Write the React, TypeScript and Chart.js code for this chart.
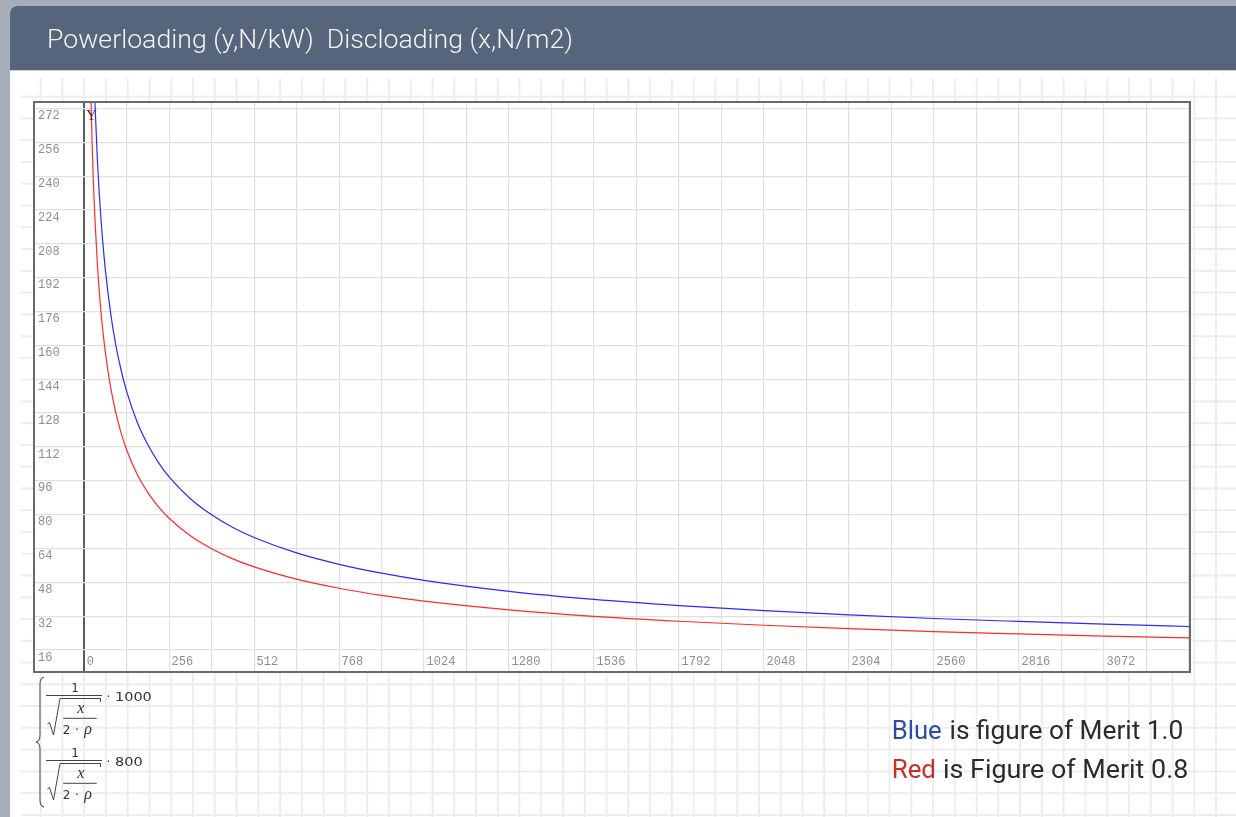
import React, { useEffect, useRef } from 'react';
import { Chart, registerables } from 'chart.js';

Chart.register(...registerables);

// Disc loading (x, N/m2) sample positions
const discLoading = [16, 20, 24, 28, 32, 40, 48, 56, 64, 80, 96, 112, 128, 160, 192, 224, 256, 320, 384, 448, 512, 640, 768, 896, 1024, 1280, 1536, 1792, 2048, 2304, 2560, 2816, 3072, 3328, 3400];
// Power loading (y, N/kW), blue curve: figure of merit 1.0
const blueMerit10 = [391.3, 350.0, 319.5, 295.8, 276.7, 247.5, 225.9, 209.2, 195.7, 175.0, 159.7, 147.9, 138.3, 123.7, 113.0, 104.6, 97.8, 87.5, 79.9, 73.9, 69.2, 61.9, 56.5, 52.3, 48.9, 43.7, 39.9, 37.0, 34.6, 32.6, 30.9, 29.5, 28.2, 27.1, 26.8];
// Power loading (y, N/kW), red curve: figure of merit 0.8
const redMerit08 = [313.0, 280.0, 255.6, 236.6, 221.4, 198.0, 180.7, 167.4, 156.6, 140.0, 127.8, 118.3, 110.7, 99.0, 90.4, 83.7, 78.3, 70.0, 63.9, 59.1, 55.3, 49.5, 45.2, 41.8, 39.1, 35.0, 31.9, 29.6, 27.7, 26.1, 24.7, 23.6, 22.6, 21.7, 21.5];

const xRange = [-148, 3328];
const xGridStep = 128;
const xLabelStep = 256;
const yRange = [6.07, 274.6];
const yStep = 16;

const titleText = 'Powerloading (y,N/kW)  Discloading (x,N/m2)';
const noteLines = [
  { word: 'Blue', rest: 'is figure of Merit 1.0', color: '#3049a4' },
  { word: 'Red', rest: 'is Figure of Merit 0.8', color: '#c9302c' },
];
const formulaFactors = ['1000', '800'];

export default function App() {
  const canvasRef = useRef<HTMLCanvasElement>(null);

  useEffect(() => {
    const canvas = canvasRef.current;
    if (!canvas) return;
    const tickFont = { family: "'Liberation Mono', monospace", size: 12 };
    const chart = new Chart(canvas, {
      type: 'line',
      data: {
        datasets: [
          {
            label: 'Figure of Merit 1.0',
            data: discLoading.map((x, i) => ({ x, y: blueMerit10[i] })),
            borderColor: '#2a2aff',
            borderWidth: 1.2,
            pointRadius: 0,
            fill: false,
            cubicInterpolationMode: 'monotone',
          },
          {
            label: 'Figure of Merit 0.8',
            data: discLoading.map((x, i) => ({ x, y: redMerit08[i] })),
            borderColor: '#ff2a2a',
            borderWidth: 1.2,
            pointRadius: 0,
            fill: false,
            cubicInterpolationMode: 'monotone',
          },
        ],
      },
      options: {
        animation: false,
        responsive: true,
        maintainAspectRatio: false,
        layout: { padding: 0 },
        plugins: { legend: { display: false }, tooltip: { enabled: false } },
        elements: { point: { radius: 0 } },
        scales: {
          x: {
            type: 'linear',
            position: 'bottom',
            min: xRange[0],
            max: xRange[1],
            afterFit: (s: any) => { s.height = 0; s.paddingLeft = 0; s.paddingRight = 0; s.paddingTop = 0; s.paddingBottom = 0; },
            border: { display: false },
            grid: {
              drawTicks: false,
              color: (c: any) => {
                const v = c.tick ? c.tick.value : NaN;
                if (v === 0) return '#5c5c5c';
                if (v > 0 && v % xGridStep === 0) return '#e0e0e0';
                return 'rgba(0,0,0,0)';
              },
              lineWidth: (c: any) => (c.tick && c.tick.value === 0 ? 2 : 1.2),
            },
            ticks: {
              stepSize: xGridStep,
              includeBounds: false,
              autoSkip: false,
              maxRotation: 0,
              minRotation: 0,
              mirror: true,
              align: 'start',
              labelOffset: 2.5,
              padding: 1.5,
              color: '#8e8e8e',
              font: tickFont,
              callback: (v: any) => (v >= 0 && v % xLabelStep === 0 ? String(v) : ''),
            },
          },
          y: {
            type: 'linear',
            position: 'left',
            min: yRange[0],
            max: yRange[1],
            afterFit: (s: any) => { s.width = 0; s.paddingLeft = 0; s.paddingRight = 0; s.paddingTop = 0; s.paddingBottom = 0; },
            border: { display: false },
            grid: {
              drawTicks: false,
              color: (c: any) => {
                const v = c.tick ? c.tick.value : NaN;
                return v % yStep === 0 ? '#e0e0e0' : 'rgba(0,0,0,0)';
              },
              lineWidth: 1.2,
            },
            ticks: {
              stepSize: yStep,
              includeBounds: false,
              autoSkip: false,
              mirror: true,
              padding: 3,
              labelOffset: 7.5,
              color: '#8e8e8e',
              font: tickFont,
              callback: (v: any) => (v % yStep === 0 ? String(v) : ''),
            },
          },
        },
      },
    } as any);
    return () => chart.destroy();
  }, []);

  const gridLine = '#ededed';

  return (
    <div style={{ position: 'fixed', left: 0, top: 0, width: 1236, height: 817, overflow: 'hidden', background: '#a6adb8' }}>
      {/* panel */}
      <div style={{ position: 'absolute', left: 10, top: 6, width: 1226, height: 811, background: '#ffffff', borderTopLeftRadius: 7, overflow: 'hidden' }}>
        <div style={{ position: 'absolute', left: 0, top: 0, width: '100%', height: 63.5, background: '#56657b' }} />
        <div style={{ position: 'absolute', left: 0, top: 63.5, width: '100%', height: 1.5, background: '#c9ced5' }} />
      </div>
      {/* page grid */}
      <div
        style={{
          position: 'absolute', left: 21, top: 78, width: 1215, height: 739,
          backgroundImage: `linear-gradient(to right, ${gridLine} 0px, ${gridLine} 2px, transparent 2px), linear-gradient(to bottom, ${gridLine} 0px, ${gridLine} 2px, transparent 2px)`,
          backgroundSize: '21.77px 21.77px',
          backgroundPosition: '18.7px 17.7px',
        }}
      />
      {/* plot frame */}
      <div style={{ position: 'absolute', left: 33, top: 101, width: 1158, height: 572, boxSizing: 'border-box', border: '2px solid #6a6a6a', background: '#ffffff' }}>
        <div style={{ position: 'relative', width: 1154, height: 568 }}>
          <canvas ref={canvasRef} />
        </div>
      </div>
      {/* text overlay */}
      <svg width={1236} height={817} style={{ position: 'absolute', left: 0, top: 0, pointerEvents: 'none' }}>
        <text x={47} y={47.5} textLength={526} lengthAdjust="spacingAndGlyphs" fill="#f2f3f5"
          style={{ fontFamily: 'Roboto, sans-serif', fontWeight: 300, fontSize: 25, whiteSpace: 'pre' }}>{titleText}</text>

        <text x={91.5} y={119.5} textAnchor="middle" fill="#4a2a2a" style={{ fontFamily: "'Liberation Serif', serif", fontSize: 15 }}>Y</text>

        {/* notes */}
        <text x={891.7} y={739.3} textLength={50} lengthAdjust="spacingAndGlyphs" fill={noteLines[0].color} style={{ fontFamily: 'Roboto, sans-serif', fontSize: 26 }}>{noteLines[0].word}</text>
        <text x={949.5} y={739.3} textLength={233.8} lengthAdjust="spacingAndGlyphs" fill="#2b2b2b" style={{ fontFamily: 'Roboto, sans-serif', fontSize: 26 }}>{noteLines[0].rest}</text>
        <text x={891.7} y={778.3} textLength={44.3} lengthAdjust="spacingAndGlyphs" fill={noteLines[1].color} style={{ fontFamily: 'Roboto, sans-serif', fontSize: 26 }}>{noteLines[1].word}</text>
        <text x={943} y={778.3} textLength={245.3} lengthAdjust="spacingAndGlyphs" fill="#2b2b2b" style={{ fontFamily: 'Roboto, sans-serif', fontSize: 26 }}>{noteLines[1].rest}</text>

        {/* formula */}
        <path d="M44,677 Q40,678 40,684 L40,735 Q40,741 36,742 Q40,743 40,749 L40,800 Q40,806 44,807" stroke="#555" strokeWidth={1.1} fill="none" />
        {formulaFactors.map((f, i) => {
          const dy = i * 65;
          return (
            <g key={f} transform={`translate(0,${dy})`}>
              <text x={75} y={691.7} textAnchor="middle" fill="#333" style={{ fontFamily: "'DejaVu Sans', sans-serif", fontSize: 12 }}>1</text>
              <line x1={46} x2={102} y1={695.5} y2={695.5} stroke="#444" strokeWidth={1} />
              <text x={108.5} y={700.5} textAnchor="middle" fill="#333" style={{ fontFamily: "'DejaVu Sans', sans-serif", fontSize: 12 }}>·</text>
              <text x={115} y={700.5} textLength={f.length * 9.2} lengthAdjust="spacingAndGlyphs" fill="#333" style={{ fontFamily: "'DejaVu Sans', sans-serif", fontSize: 12 }}>{f}</text>
              <path d="M47.5,724 L49.5,722.5 L53.5,735 L60,698.5 H100.5 V702" stroke="#444" strokeWidth={1} fill="none" />
              <text x={80.8} y={713.3} textAnchor="middle" fill="#333" style={{ fontFamily: "'Liberation Serif', serif", fontStyle: 'italic', fontSize: 16 }}>x</text>
              <line x1={63.3} x2={96.7} y1={718.3} y2={718.3} stroke="#444" strokeWidth={1} />
              <text x={66.5} y={734} textAnchor="middle" fill="#333" style={{ fontFamily: "'DejaVu Sans', sans-serif", fontSize: 12 }}>2</text>
              <text x={77} y={734} textAnchor="middle" fill="#333" style={{ fontFamily: "'DejaVu Sans', sans-serif", fontSize: 12 }}>·</text>
              <text x={88} y={734} textAnchor="middle" fill="#333" style={{ fontFamily: "'Liberation Serif', serif", fontStyle: 'italic', fontSize: 16 }}>ρ</text>
            </g>
          );
        })}
      </svg>
    </div>
  );
}
